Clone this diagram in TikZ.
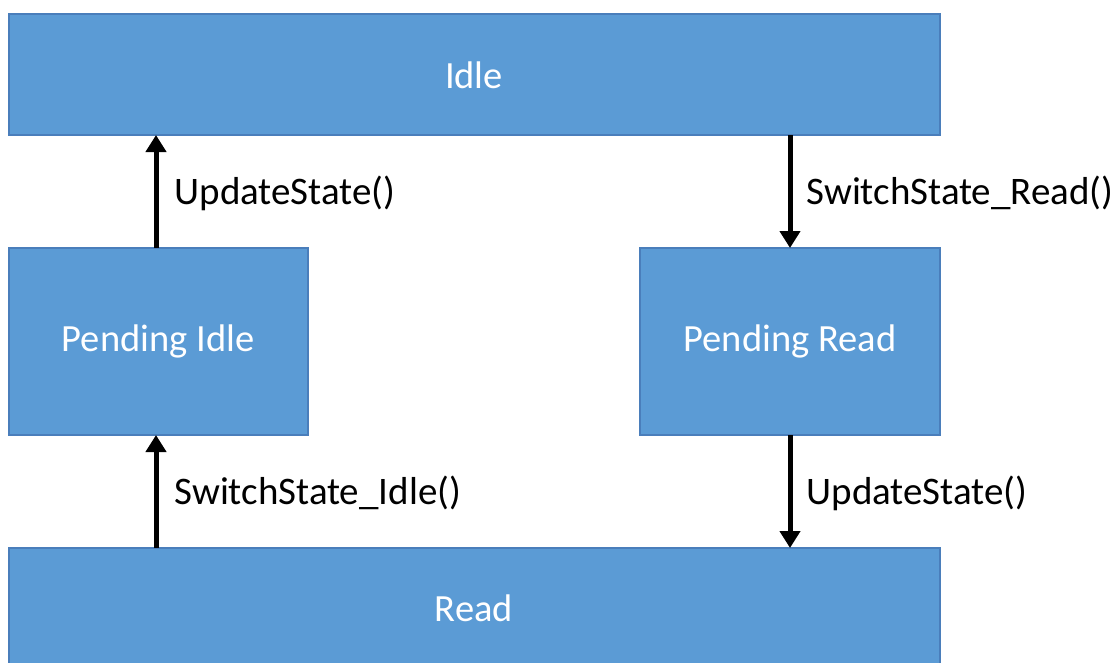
\documentclass[tikz,border=0pt]{standalone}
\usepackage{fontspec}
\setmainfont{Carlito}
\usetikzlibrary{arrows.meta}
\definecolor{boxfill}{HTML}{5B9BD5}
\definecolor{boxline}{HTML}{4A7EBB}
\begin{document}
\begin{tikzpicture}[x=1pt,y=-1pt,
  state/.style={draw=boxline,line width=1.2pt,fill=boxfill},
  stxt/.style={text=white,font=\fontsize{38.5}{44}\selectfont},
  trans/.style={line width=5pt,-{Triangle[width=20pt,length=17pt]}},
  lbl/.style={anchor=west,font=\fontsize{39}{44}\selectfont,text=black}]
\useasboundingbox (0,0) rectangle (1115,662);
\fill[white] (0,0) rectangle (1115,662);
\draw[state] (9,14) rectangle (940,135);
\node[stxt] (idle) at (474,75) {Idle};
\draw[state] (9,248) rectangle (308,435);
\node[stxt] (pidle) at (158,341) {Pending Idle};
\draw[state] (640,248) rectangle (940,435);
\node[stxt] (pread) at (790,341) {Pending Read};
\draw[state] (9,548) rectangle (940,680);
\node[stxt] (read) at (474,608) {Read};
\coordinate (a1s) at (156,248); \coordinate (a1e) at (156,135);
\coordinate (a2s) at (790,135); \coordinate (a2e) at (790,248);
\coordinate (a3s) at (156,548); \coordinate (a3e) at (156,435);
\coordinate (a4s) at (790,435); \coordinate (a4e) at (790,548);
\draw[trans] (a1s) -- (a1e);
\draw[trans] (a2s) -- (a2e);
\draw[trans] (a3s) -- (a3e);
\draw[trans] (a4s) -- (a4e);
\node[lbl] (l1) at (171,193) {UpdateState()};
\node[lbl] (l2) at (803,193) {SwitchState\_Read()};
\node[lbl] (l3) at (171,493) {SwitchState\_Idle()};
\node[lbl] (l4) at (803,493) {UpdateState()};
\end{tikzpicture}
\end{document}
